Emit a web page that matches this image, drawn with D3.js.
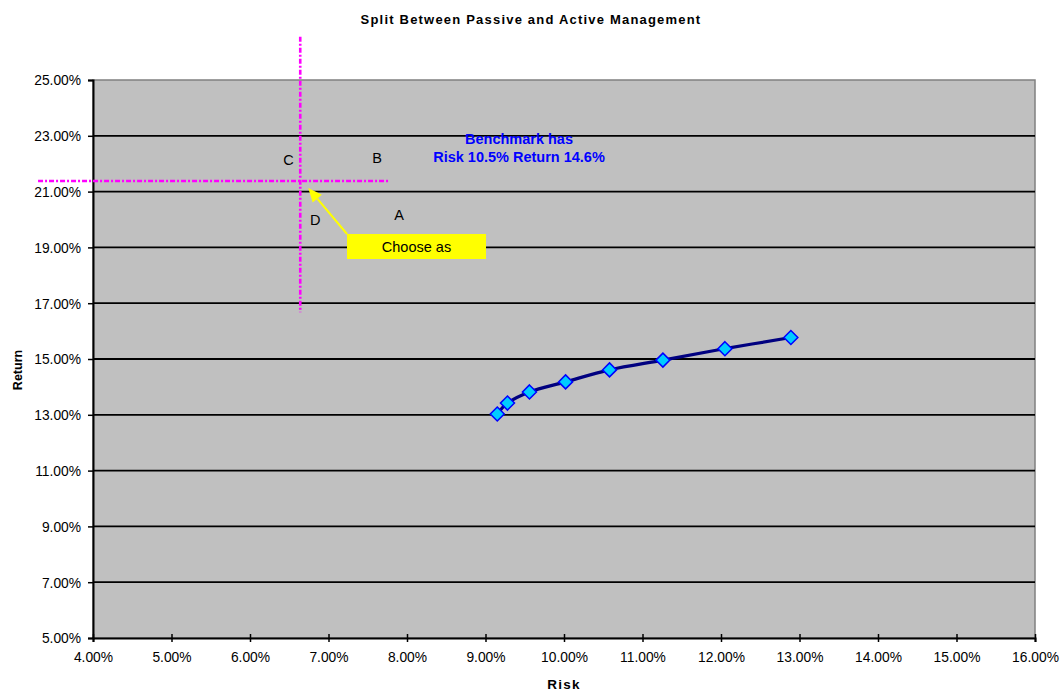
<!DOCTYPE html>
<html>
<head>
<meta charset="utf-8">
<script src="https://cdn.jsdelivr.net/npm/d3@7"></script>
<style>
  html, body { margin: 0; padding: 0; background: #fff; }
  svg { display: block; font-family: Arial, "Liberation Sans", sans-serif; }
</style>
</head>
<body>
<svg id="chart" width="1062" height="691"></svg>
<script>
// Frontier of passive/active splits (risk %, return %)
const riskValues   = [9.15, 9.28, 9.56, 10.02, 10.58, 11.26, 12.05, 12.89];
const returnValues = [13.03, 13.42, 13.82, 14.18, 14.61, 14.96, 15.37, 15.77];

// Axis ticks
const xTicks = [4, 5, 6, 7, 8, 9, 10, 11, 12, 13, 14, 15, 16];
const yTicks = [5, 7, 9, 11, 13, 15, 17, 19, 21, 23, 25];

// Quadrant guides (crosshair) in data units
const crossRisk = 6.64;
const crossReturn = 21.38;
const vGuideReturns = [16.68, 26.55];
const hGuideRisks = [3.30, 7.76];

// Quadrant letters
const quadLabels = ["C", "B", "A", "D"];
const quadRisk   = [6.49, 7.62, 7.90, 6.83];
const quadReturn = [22.15, 22.2, 20.15, 20.0];

// Callout
const calloutText = "Choose as";
const benchmarkLines = ["Benchmark has", "Risk 10.5% Return 14.6%"];

const svg = d3.select("#chart");
const margin = { left: 93, right: 27, top: 80, bottom: 53 };
const W = 1062, H = 691;
const pw = W - margin.left - margin.right;
const ph = H - margin.top - margin.bottom;

const x = d3.scaleLinear().domain([4, 16]).range([margin.left, margin.left + pw]);
const y = d3.scaleLinear().domain([5, 25]).range([margin.top + ph, margin.top]);

// Plot area
svg.append("rect")
  .attr("x", x(4)).attr("y", y(25))
  .attr("width", pw).attr("height", ph)
  .attr("fill", "#c0c0c0")
  .attr("stroke", "#808080").attr("stroke-width", 1.5);

// Horizontal grid lines
svg.append("g").selectAll("line")
  .data(yTicks.filter(d => d > 5 && d < 25))
  .join("line")
  .attr("x1", x(4)).attr("x2", x(16))
  .attr("y1", d => y(d)).attr("y2", d => y(d))
  .attr("stroke", "#000").attr("stroke-width", 1.8);

// Axes
const fmt = d => d.toFixed(2) + "%";
const yAxis = svg.append("g")
  .attr("transform", `translate(${x(4)},0)`)
  .call(d3.axisLeft(y).tickValues(yTicks).tickFormat(fmt).tickSize(5).tickPadding(7));
const xAxis = svg.append("g")
  .attr("transform", `translate(0,${y(5)})`)
  .call(d3.axisBottom(x).tickValues(xTicks).tickFormat(fmt).tickSize(4).tickPadding(8));
[xAxis, yAxis].forEach(g => {
  g.select(".domain").attr("stroke", "#000").attr("stroke-width", 2);
  g.selectAll(".tick line").attr("stroke", "#000").attr("stroke-width", 1.5);
  g.selectAll(".tick text").attr("font-size", 13.8).attr("fill", "#000")
    .attr("font-family", "Arial, 'Liberation Sans', sans-serif");
});
xAxis.selectAll(".tick line").attr("y1", -4);
xAxis.selectAll(".tick text").attr("dy", "0.85em");
yAxis.selectAll(".tick text").attr("dy", "0.35em");

// Titles
svg.append("text").attr("x", 531).attr("y", 24).attr("text-anchor", "middle")
  .attr("font-size", 13).attr("letter-spacing", 1.2).attr("font-weight", "bold")
  .text("Split Between Passive and Active Management");
svg.append("text").attr("x", 564).attr("y", 689).attr("text-anchor", "middle")
  .attr("font-size", 13.5).attr("letter-spacing", 1.2).attr("font-weight", "bold").text("Risk");
svg.append("text").attr("transform", "translate(22,370) rotate(-90)").attr("text-anchor", "middle")
  .attr("font-size", 12.5).attr("font-weight", "bold").text("Return");

// Frontier line and markers
const pts = riskValues.map((r, i) => [r, returnValues[i]]);
svg.append("path")
  .datum(pts)
  .attr("fill", "none").attr("stroke", "#000080").attr("stroke-width", 3.2)
  .attr("stroke-linejoin", "round")
  .attr("d", d3.line().x(d => x(d[0])).y(d => y(d[1])).curve(d3.curveCatmullRom.alpha(0.5)));
svg.append("g").selectAll("path")
  .data(pts)
  .join("path")
  .attr("transform", d => `translate(${x(d[0])},${y(d[1])})`)
  .attr("d", "M0,-7L7,0L0,7L-7,0Z")
  .attr("fill", "#00ccff").attr("stroke", "#0000ff").attr("stroke-width", 1.5);

// Crosshair guides
const dash = "5,2,2,2";
svg.append("line")
  .attr("x1", x(crossRisk)).attr("x2", x(crossRisk))
  .attr("y1", y(vGuideReturns[1])).attr("y2", y(vGuideReturns[0]))
  .attr("stroke", "#ff00ff").attr("stroke-width", 2.6).attr("stroke-dasharray", dash);
svg.append("line")
  .attr("x1", x(hGuideRisks[0])).attr("x2", x(hGuideRisks[1]))
  .attr("y1", y(crossReturn)).attr("y2", y(crossReturn))
  .attr("stroke", "#ff00ff").attr("stroke-width", 2.6).attr("stroke-dasharray", dash);

// Quadrant letters
svg.append("g").selectAll("text")
  .data(quadLabels)
  .join("text")
  .attr("x", (d, i) => x(quadRisk[i])).attr("y", (d, i) => y(quadReturn[i]))
  .attr("text-anchor", "middle").attr("dy", "0.35em")
  .attr("font-size", 14.5).attr("fill", "#000").text(d => d);

// Callout box with arrow pointing at the crosshair
const boxX = 347, boxY = 234, boxW = 139, boxH = 25;
const tipX = x(crossRisk) + 8, tipY = y(crossReturn) + 7;
const sx = boxX, sy = boxY;
const ang = Math.atan2(tipY - sy, tipX - sx);
const headLen = 14, headW = 6;
const bx = tipX - headLen * Math.cos(ang), by = tipY - headLen * Math.sin(ang);
svg.append("line")
  .attr("x1", sx).attr("y1", sy).attr("x2", bx).attr("y2", by)
  .attr("stroke", "#ffff00").attr("stroke-width", 2);
svg.append("path")
  .attr("d", `M${tipX},${tipY}L${bx + headW * Math.sin(ang)},${by - headW * Math.cos(ang)}L${bx - headW * Math.sin(ang)},${by + headW * Math.cos(ang)}Z`)
  .attr("fill", "#ffff00");
svg.append("rect")
  .attr("x", boxX).attr("y", boxY).attr("width", boxW).attr("height", boxH)
  .attr("fill", "#ffff00");
svg.append("text")
  .attr("x", boxX + boxW / 2).attr("y", boxY + boxH / 2).attr("dy", "0.35em")
  .attr("text-anchor", "middle").attr("font-size", 14.5).attr("fill", "#000").text(calloutText);

// Benchmark note
svg.append("g").selectAll("text")
  .data(benchmarkLines)
  .join("text")
  .attr("x", 519).attr("y", (d, i) => 144 + i * 18)
  .attr("text-anchor", "middle").attr("font-size", 14.5).attr("font-weight", "bold")
  .attr("fill", "#0000ff").text(d => d);
</script>
</body>
</html>
